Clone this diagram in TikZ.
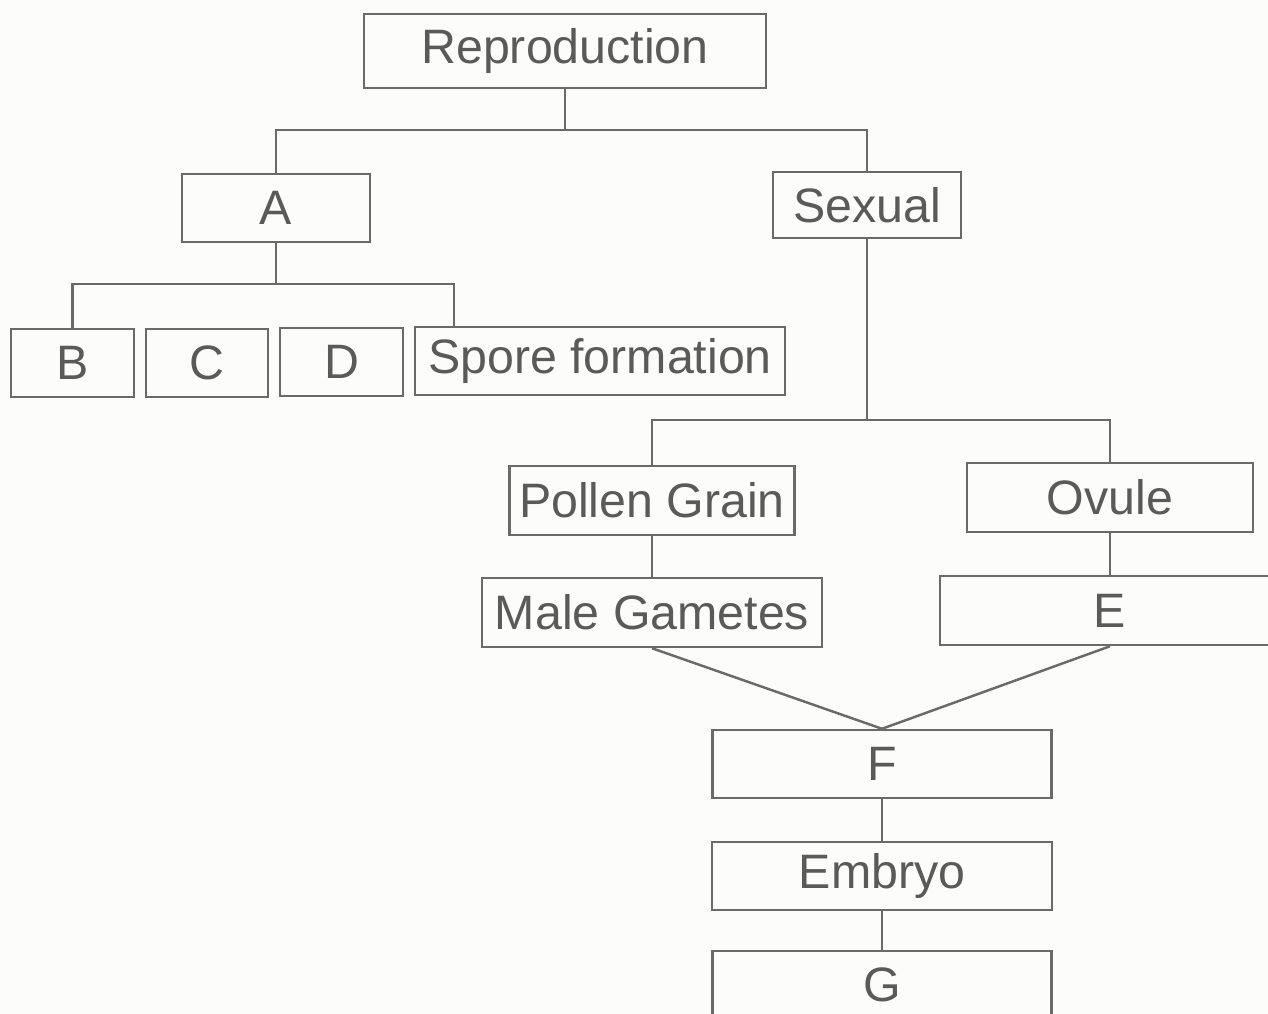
\documentclass[tikz,border=0pt]{standalone}
\usepackage{fontspec}
\setmainfont{Liberation Sans}
\definecolor{ink}{HTML}{5A5A5A}
\definecolor{linec}{HTML}{6A6A6A}
\definecolor{paper}{HTML}{FCFCFA}
\begin{document}
\begin{tikzpicture}[x=0.02cm,y=-0.02cm,
  box/.style={draw=linec, line width=1.4pt, inner sep=0pt, rectangle, text=ink,
    font=\fontsize{27.5pt}{33pt}\selectfont},
  conn/.style={draw=linec, line width=1.4pt}]
\useasboundingbox (0,0) rectangle (1268,1014);
\fill[paper] (0,0) rectangle (1268,1014);
\clip (0,0) rectangle (1268,1014);
% nodes
\node[box, minimum width=8.04cm, minimum height=1.48cm] (rep) at (565,51) {Reproduction};
\node[box, minimum width=3.76cm, minimum height=1.36cm] (A) at (276,208) {A};
\node[box, minimum width=3.76cm, minimum height=1.32cm] (sexual) at (867,205) {Sexual};
\node[box, minimum width=2.46cm, minimum height=1.36cm] (B) at (72.5,363) {B};
\node[box, minimum width=2.44cm, minimum height=1.36cm] (C) at (207,363) {C};
\node[box, minimum width=2.46cm, minimum height=1.36cm] (D) at (341.5,362) {D};
\node[box, minimum width=7.40cm, minimum height=1.36cm] (spore) at (600,361) {Spore formation};
\node[box, minimum width=5.70cm, minimum height=1.38cm] (pollen) at (652,500.5) {Pollen Grain};
\node[box, minimum width=5.72cm, minimum height=1.38cm] (ovule) at (1110,497.5) {Ovule};
\node[box, minimum width=6.80cm, minimum height=1.38cm] (male) at (652,612.5) {Male Gametes};
\node[box, minimum width=6.80cm, minimum height=1.38cm] (E) at (1110,610.5) {E};
\node[box, minimum width=6.78cm, minimum height=1.36cm] (F) at (882,764) {F};
\node[box, minimum width=6.80cm, minimum height=1.36cm] (embryo) at (882,876) {Embryo};
\node[box, minimum width=6.78cm, minimum height=1.36cm] (G) at (882,985) {G};
% junctions
\coordinate (h1) at (565,130);
\coordinate (h2) at (276,284);
\coordinate (h3) at (867,420);
\coordinate (xs) at (454,0);
\coordinate (spt) at (spore.north -| xs);
% connectors
\draw[conn] (rep.south) -- (h1);
\draw[conn] (A.north) |- (h1) -| (sexual.north);
\draw[conn] (A.south) -- (h2);
\draw[conn] (B.north) |- (h2) -| (spt);
\draw[conn] (sexual.south) -- (h3);
\draw[conn] (pollen.north) |- (h3) -| (ovule.north);
\draw[conn] (pollen.south) -- (male.north);
\draw[conn] (ovule.south) -- (E.north);
\draw[conn] (male.south) -- (F.north);
\draw[conn] (E.south) -- (F.north);
\draw[conn] (F.south) -- (embryo.north);
\draw[conn] (embryo.south) -- (G.north);
\end{tikzpicture}
\end{document}
